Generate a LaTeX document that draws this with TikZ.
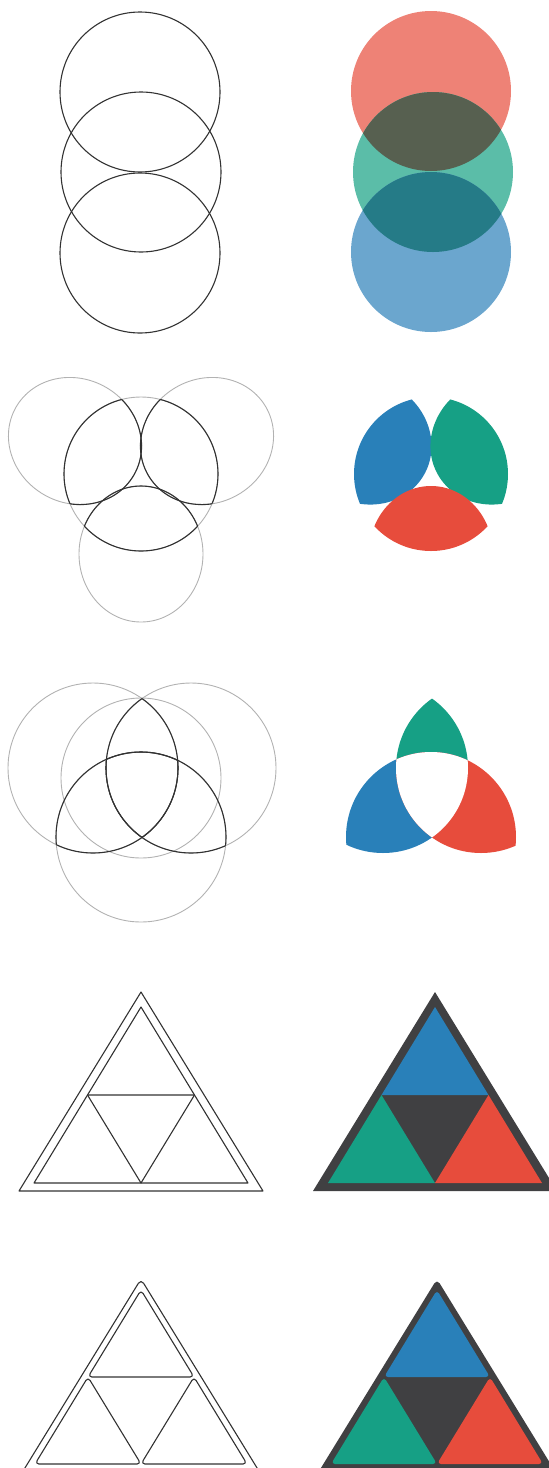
\documentclass[tikz,border=0pt]{standalone}
\usepackage{tikz}
\usetikzlibrary{calc}
\definecolor{PetalBlue}{RGB}{41,128,185}
\definecolor{PetalGreen}{RGB}{22,160,133}
\definecolor{PetalRed}{RGB}{231,76,60}
\definecolor{FrameGray}{RGB}{64,64,66}
\definecolor{GuideGray}{RGB}{178,178,178}
\definecolor{InkGray}{RGB}{50,50,50}
\definecolor{SoftRed}{RGB}{238,130,118}
\definecolor{SoftGreen}{RGB}{91,189,168}
\definecolor{SoftBlue}{RGB}{107,166,206}
\definecolor{OliveMix}{RGB}{87,96,80}
\definecolor{TealMix}{RGB}{37,123,135}
\tikzset{
  ink/.style={draw=InkGray,line width=1.1pt,line join=round},
  guide/.style={draw=GuideGray,line width=0.9pt},
  frame/.style={fill=FrameGray},
  bigcorner/.style={rounded corners=5pt},
  smallcorner/.style={rounded corners=4pt},
  lobe/.style={x radius=68,y radius=62}
}

\begin{document}
\begin{tikzpicture}[x=1pt,y=-1pt]
\useasboundingbox (0,0) rectangle (549,1468);
\clip (0,0) rectangle (549,1468);
% row 1: stacked circles
\coordinate (a1) at (140,92);
\coordinate (a2) at (141,172);
\coordinate (a3) at (140,253);
\coordinate (b1) at (431,91);
\coordinate (b2) at (433,172);
\coordinate (b3) at (431,252);
\foreach \c in {a1,a2,a3}
  \draw[ink] (\c) circle[radius=80];
\fill[SoftRed] (b1) circle[radius=80];
\fill[SoftGreen] (b2) circle[radius=80];
\fill[SoftBlue] (b3) circle[radius=80];
\begin{scope}
  \clip (b1) circle[radius=80];
  \fill[OliveMix] (b2) circle[radius=80];
\end{scope}
\begin{scope}
  \clip (b2) circle[radius=80];
  \fill[TealMix] (b3) circle[radius=80];
\end{scope}
% row 2: three petals
\coordinate (kul) at (75,441);
\coordinate (kur) at (207,441);
\coordinate (kbt) at (141,554);
\coordinate (kct) at (141,474);
\coordinate (pul) at (365,441);
\coordinate (pur) at (497,441);
\coordinate (pbt) at (431,554);
\coordinate (pct) at (431,474);
\draw[guide] (kct) circle[radius=77];
\foreach \c/\a in {kul/-30,kur/30,kbt/90}
  \draw[guide,shift={(\c)},rotate=\a] (0,0) ellipse[lobe];
\foreach \c/\a in {kul/-30,kur/30,kbt/90}{
  \begin{scope}
    \clip (kct) circle[radius=77];
    \draw[ink,shift={(\c)},rotate=\a] (0,0) ellipse[lobe];
  \end{scope}
  \begin{scope}
    \clip[shift={(\c)},rotate=\a] (0,0) ellipse[lobe];
    \draw[ink] (kct) circle[radius=77];
  \end{scope}
}
\foreach \c/\a/\col in {pul/-30/PetalBlue,pur/30/PetalGreen,pbt/90/PetalRed}{
  \begin{scope}
    \clip (pct) circle[radius=77];
    \fill[\col,shift={(\c)},rotate=\a] (0,0) ellipse[lobe];
  \end{scope}
}
% row 3: venn knot
\coordinate (vl) at (93,768);
\coordinate (vr) at (191,768);
\coordinate (vb) at (141,837);
\coordinate (vm) at (141,778);
\coordinate (wl) at (383,768);
\coordinate (wr) at (481,768);
\coordinate (wb) at (431,837);
\foreach \c/\r in {vl/85,vr/85,vb/85,vm/80}
  \draw[guide] (\c) circle[radius=\r];
\foreach \p/\q in {vl/vr,vr/vl,vl/vb,vb/vl,vr/vb,vb/vr}{
  \begin{scope}
    \clip (\p) circle[radius=85];
    \draw[ink] (\q) circle[radius=85];
  \end{scope}
}
\foreach \p/\q/\col in {wl/wr/PetalGreen,wl/wb/PetalBlue,wr/wb/PetalRed}{
  \begin{scope}
    \clip (\p) circle[radius=85];
    \fill[\col] (\q) circle[radius=85];
  \end{scope}
}
\begin{scope}
  \clip (wl) circle[radius=85];
  \clip (wr) circle[radius=85];
  \fill[white] (wb) circle[radius=85];
\end{scope}
% row 4: split triangle
\foreach \dx/\k in {0/l,294/r}{
  \coordinate (\k oa) at (141+\dx,992);
  \coordinate (\k ob) at (19+\dx,1191);
  \coordinate (\k oc) at (263+\dx,1191);
  \coordinate (\k ia) at (141+\dx,1007);
  \coordinate (\k ib) at (34+\dx,1183);
  \coordinate (\k ic) at (248+\dx,1183);
}
\foreach \k in {l,r}{
  \coordinate (\k m1) at ($(\k ia)!0.5!(\k ib)$);
  \coordinate (\k m2) at ($(\k ia)!0.5!(\k ic)$);
  \coordinate (\k m3) at ($(\k ib)!0.5!(\k ic)$);
}
\draw[ink] (loa) -- (lob) -- (loc) -- cycle;
\draw[ink] (lia) -- (lib) -- (lic) -- cycle;
\draw[ink] (lm1) -- (lm2) -- (lm3) -- cycle;
\fill[frame] (roa) -- (rob) -- (roc) -- cycle;
\fill[PetalBlue] (ria) -- (rm1) -- (rm2) -- cycle;
\fill[PetalGreen] (rm1) -- (rib) -- (rm3) -- cycle;
\fill[PetalRed] (rm2) -- (rm3) -- (ric) -- cycle;
% row 5: rounded split triangle
\foreach \dx/\k in {0/s,296/t}{
  \coordinate (\k oa) at (141+\dx,1279);
  \coordinate (\k ob) at (20+\dx,1476);
  \coordinate (\k oc) at (262+\dx,1476);
  \coordinate (\k ia) at (141+\dx,1290);
  \coordinate (\k ib) at (35+\dx,1464);
  \coordinate (\k ic) at (247+\dx,1464);
}
\foreach \k in {s,t}{
  \coordinate (\k m1) at ($(\k ia)!0.5!(\k ib)$);
  \coordinate (\k m2) at ($(\k ia)!0.5!(\k ic)$);
  \coordinate (\k m3) at ($(\k ib)!0.5!(\k ic)$);
}
\draw[ink,bigcorner] (soa) -- (sob) -- (soc) -- cycle;
\draw[ink,smallcorner] (sia) -- (sm1) -- (sm2) -- cycle;
\draw[ink,smallcorner] (sm1) -- (sib) -- (sm3) -- cycle;
\draw[ink,smallcorner] (sm2) -- (sm3) -- (sic) -- cycle;
\fill[frame,bigcorner] (toa) -- (tob) -- (toc) -- cycle;
\fill[PetalBlue,smallcorner] (tia) -- (tm1) -- (tm2) -- cycle;
\fill[PetalGreen,smallcorner] (tm1) -- (tib) -- (tm3) -- cycle;
\fill[PetalRed,smallcorner] (tm2) -- (tm3) -- (tic) -- cycle;
\end{tikzpicture}
\end{document}
